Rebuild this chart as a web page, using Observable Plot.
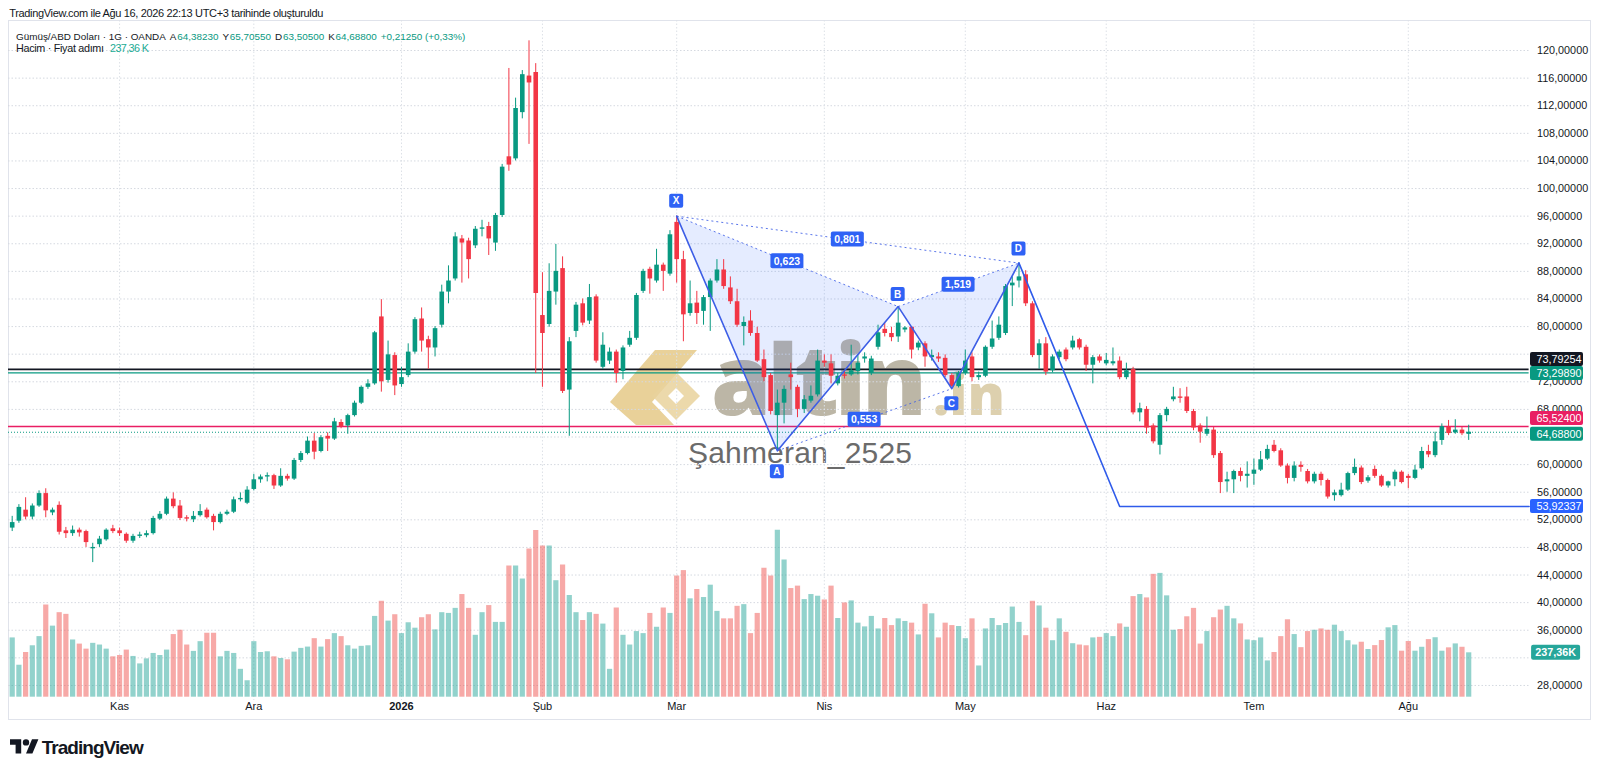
<!DOCTYPE html>
<html><head><meta charset="utf-8">
<script src="https://cdn.jsdelivr.net/npm/d3@7"></script>
<script src="https://cdn.jsdelivr.net/npm/@observablehq/plot@0.6"></script>
<style>
body{margin:0;background:#fff;width:1600px;height:772px;overflow:hidden;position:relative;font-family:"Liberation Sans",Arial,sans-serif;color:#131722;}
#frame{position:absolute;left:8px;top:20px;width:1583px;height:700px;border:1px solid #e0e3eb;box-sizing:border-box;}
.layer{position:absolute;left:0;top:0;}
#chart{position:absolute;left:0;top:20px;width:1600px;height:700px;}
#chart svg{position:absolute;left:0;top:0;}
</style></head>
<body>
<div id="frame"></div>
<svg id="back" class="layer" width="1600" height="772"></svg>
<div id="chart"></div>
<svg id="front" class="layer" width="1600" height="772"></svg>
<script>
// ---------------- DATA ----------------
const monthIdx = [16, 36, 58, 79, 99, 121, 142, 163, 185, 208];
const monthLabels = ["Kas","Ara","2026","Şub","Mar","Nis","May","Haz","Tem","Ağu"];
const priceTicks = [28,32,36,40,44,48,52,56,60,64,68,72,76,80,84,88,92,96,100,104,108,112,116,120];
const hiddenTickLabels = [76, 64, 32]; // covered by the price / volume label boxes

const open = [50.8,51.8,53.4,52.4,54.0,55.8,53.0,54.1,50.4,50.0,50.5,50.3,47.8,48.4,49.1,50.7,50.4,49.9,48.9,49.6,49.7,50.0,52.1,52.8,55.0,54.0,52.3,52.0,52.6,53.4,52.5,51.6,52.8,53.1,54.9,54.4,
56.4,57.8,58.2,58.4,56.9,58.3,57.9,60.6,61.6,63.4,61.9,64.1,63.7,66.1,65.6,67.1,68.9,71.2,71.7,81.4,72.2,75.8,71.6,72.9,76.3,81.1,78.1,76.9,80.2,85.0,86.9,92.7,92.4,91.7,94.1,94.5,
92.1,96.1,104.6,104.3,111.0,116.3,116.8,81.6,80.3,85.0,88.4,70.8,79.3,83.3,80.8,84.3,74.1,75.0,76.3,73.5,77.3,78.3,85.1,88.3,86.6,88.9,87.6,95.1,89.7,81.9,83.4,82.2,84.2,86.6,88.2,85.6,
83.6,80.0,80.8,79.0,75.2,72.9,67.1,68.9,73.0,71.2,68.0,69.2,70.1,75.0,74.6,71.7,73.0,73.0,73.5,75.3,73.2,77.0,79.6,79.0,78.5,79.5,79.9,76.9,77.5,75.5,75.6,75.4,72.9,71.3,73.2,
75.6,72.6,72.8,77.0,78.3,79.0,85.9,86.6,87.5,83.3,75.8,77.5,73.6,75.5,76.6,76.9,78.1,77.0,74.4,75.6,74.6,74.6,75.0,72.6,73.8,67.5,68.0,65.6,62.8,67.1,69.4,69.8,69.8,67.7,65.6,64.4,
65.0,61.6,57.5,57.8,59.0,58.3,58.6,59.2,60.8,62.8,62.0,59.8,58.0,59.9,59.0,57.5,58.6,57.7,55.5,55.5,56.3,58.7,
59.5,57.6,59.3,58.3,56.9,57.8,58.9,58.3,58.0,59.4,61.9,61.3,63.5,65.4,64.6,65.0,64.3823];
const high = [52.5,54.2,55.2,54.3,56.2,56.5,53.7,54.6,50.9,51.1,50.8,50.5,48.6,49.6,50.7,51.2,50.8,50.1,49.9,50.2,50.4,52.5,53.2,55.3,55.9,54.8,52.6,53.2,54.2,53.7,52.8,53.1,53.4,55.3,55.9,56.8,
58.6,58.5,58.8,58.6,59.4,58.6,60.9,61.9,64.0,64.5,64.2,64.6,66.7,66.5,67.3,69.2,71.4,72.3,79.3,83.9,77.9,76.2,74.1,77.5,81.3,82.7,78.6,80.0,86.0,88.8,93.6,93.2,92.8,94.5,95.4,95.1,
96.4,103.5,117.4,113.1,117.1,121.4,118.1,87.8,89.1,91.9,90.1,78.4,83.5,84.0,86.1,84.6,79.1,76.9,76.6,77.2,79.3,84.8,88.3,88.6,91.2,89.2,93.9,96.0,90.9,86.6,85.1,84.5,86.9,89.7,89.7,87.2,
85.4,81.4,82.3,79.9,76.6,73.2,70.8,71.4,74.7,71.5,70.0,71.4,76.6,75.9,75.9,73.2,73.5,77.3,75.9,76.2,75.7,80.2,80.5,79.9,82.9,80.0,80.0,77.9,77.8,76.6,76.2,75.9,73.2,73.5,76.6,
76.2,73.4,77.2,80.8,81.4,86.1,87.2,89.2,88.1,83.6,78.1,78.4,75.9,76.6,76.9,78.6,78.3,77.3,75.8,75.9,76.1,76.9,75.6,74.7,74.1,68.9,68.4,65.9,67.4,68.3,71.2,71.0,71.2,68.0,65.9,66.9,
65.4,61.9,58.9,59.2,59.5,60.4,60.8,61.9,62.8,63.5,62.3,60.1,60.4,60.4,59.3,58.9,58.9,57.9,56.3,57.3,58.9,60.8,
59.8,58.4,59.8,58.5,57.6,59.2,59.1,58.6,59.9,62.5,62.8,64.7,65.9,66.4,66.5,65.4,65.7055];
const low = [50.3,51.5,52.0,52.0,53.8,52.3,52.6,49.8,49.3,49.6,49.5,48.0,45.8,48.0,48.9,50.0,49.6,48.6,48.6,49.3,49.4,49.8,51.9,52.6,53.6,51.9,51.7,51.6,52.4,52.1,50.4,51.4,52.6,52.9,54.6,54.2,
56.2,57.3,57.5,56.4,56.7,57.6,57.7,60.3,61.4,60.7,61.7,61.9,63.5,65.2,64.4,66.9,68.7,70.9,71.5,70.5,71.8,70.0,71.2,72.6,76.0,76.3,73.8,75.6,79.8,83.3,86.6,86.3,86.9,91.3,93.0,90.3,
90.9,95.8,102.5,104.0,110.1,106.4,73.2,71.2,79.9,83.1,70.3,64.1,78.4,80.1,80.3,74.7,73.8,74.5,71.8,72.3,77.0,78.0,84.8,84.7,86.3,85.1,87.3,86.3,77.8,81.5,80.3,80.2,79.3,86.3,85.4,83.2,
79.9,77.2,78.6,74.8,72.0,67.2,62.0,65.9,70.8,66.8,67.4,68.9,69.8,74.1,71.7,71.4,72.4,72.8,73.0,74.7,72.9,76.6,78.5,77.8,77.7,79.1,75.3,76.5,74.1,75.0,74.8,72.6,71.0,71.1,72.9,
72.0,72.2,72.6,76.7,78.0,78.7,82.9,85.6,82.9,75.5,73.8,72.9,73.3,75.2,74.9,76.6,76.6,73.5,71.7,74.7,74.3,74.3,72.3,72.3,67.2,66.2,64.4,63.0,61.4,66.2,69.1,68.9,67.4,64.9,63.1,64.1,
60.9,55.8,56.0,55.8,57.5,56.6,57.0,59.0,60.6,61.7,59.6,57.2,57.5,58.9,57.2,57.2,56.9,55.0,54.7,55.3,56.1,58.4,
57.1,57.3,58.0,56.7,56.6,56.8,57.2,56.5,57.8,59.2,61.0,61.0,62.8,64.2,64.4,64.2,63.505];
const close = [51.6,53.8,52.4,54.0,55.8,53.3,53.4,50.2,50.0,50.5,50.1,48.7,48.0,49.2,50.5,50.3,50.0,48.9,49.6,49.8,50.0,52.2,52.8,55.0,53.9,52.2,52.1,52.5,53.2,52.3,51.6,52.8,53.1,54.9,55.1,56.3,
57.8,58.2,58.4,56.9,58.3,57.9,60.6,61.6,63.4,61.8,63.9,63.7,66.2,65.5,67.1,68.9,71.2,71.7,79.1,72.0,75.9,71.4,72.6,76.3,81.0,77.9,76.9,79.7,85.0,86.6,93.0,92.1,89.7,94.1,94.3,92.7,
96.1,103.1,103.4,111.6,116.5,115.3,84.8,79.0,85.1,88.0,70.6,77.8,83.1,80.5,84.2,75.0,77.3,76.3,73.2,76.9,78.3,84.5,88.0,86.9,88.9,88.0,93.3,89.7,81.7,83.3,81.9,84.2,86.6,88.2,85.8,83.6,
80.2,80.6,79.0,75.0,72.6,67.7,68.9,70.9,72.6,68.0,69.4,69.9,75.0,74.7,72.8,72.8,72.8,73.6,74.7,75.6,75.3,79.1,79.0,78.4,80.5,79.8,76.6,77.6,75.6,75.8,75.3,72.9,71.3,73.2,75.0,
72.6,72.9,77.0,78.2,80.2,85.8,86.3,87.2,83.3,75.8,77.5,73.4,75.6,76.3,75.2,77.9,76.9,74.4,75.5,75.0,75.1,74.9,72.6,73.6,67.5,68.1,65.3,63.3,67.1,68.0,69.8,69.6,67.7,65.3,64.7,65.1,
61.3,57.4,57.8,59.0,58.3,58.6,59.2,60.7,62.2,61.9,59.8,58.0,59.8,59.6,57.5,58.6,57.7,55.3,55.9,56.3,58.7,59.6,
57.4,58.1,58.3,56.9,57.5,58.9,57.4,58.0,59.2,61.9,61.4,63.3,65.5,64.5,65.0,64.4755,64.688];
// volume in thousands
const volume = [317,171,239,275,324,493,380,452,443,306,284,257,288,279,257,216,223,252,218,178,205,234,223,252,335,358,279,245,297,342,342,216,245,234,149,88,
297,239,243,216,207,200,241,261,268,313,268,308,340,324,275,257,272,275,432,513,407,441,340,398,369,425,441,360,452,448,475,549,475,331,452,490,
400,400,702,702,632,792,891,808,808,623,707,544,452,410,452,443,391,149,477,331,279,351,340,448,374,477,448,648,677,526,576,533,599,459,419,419,
486,495,340,448,689,648,893,734,581,594,522,549,540,520,594,421,504,515,396,376,432,365,421,383,419,405,396,333,497,446,317,396,383,378,313,
419,167,365,421,383,394,482,400,329,513,488,369,302,419,347,286,279,275,317,320,340,324,392,374,538,549,531,657,662,542,358,362,430,475,284,351,
425,466,486,419,392,306,302,317,194,239,324,414,335,265,351,358,365,358,385,351,302,279,
294,255,276,303,371,383,246,298,246,267,308,318,246,264,285,267,237.36];

// horizontal levels drawn on the chart
const levelBlack = 73.79254;
const levelTeal = 73.29890;
const levelPink = 65.52400;
const targetLevel = 53.92337;

// XABCD harmonic pattern
const patternNames = ["X","A","B","C","D"];
const patternIdx = [99, 114, 132, 140, 150];
const patternPrice = [96.0, 62.0, 82.9, 71.0, 89.2];
const ratioPairs = [[0,2],[0,4],[2,4],[1,3]];
const ratioLabels = ["0,623","0,801","1,519","0,553"];
const projIdx = [150, 165];       // D -> target corner
const xStart = -0.55, xEnd = 226; // visible bar range incl. right offset

// ---------------- STYLE ----------------
const FONT = "Liberation Sans, Arial, sans-serif";
const UP = "#089981", DOWN = "#f23645";
const VUP = "rgba(38,166,154,0.5)", VDOWN = "rgba(239,83,80,0.5)";
const PAT = "#3d5ee6", BOXBLUE = "#2f62f5";
const W = 1600, H = 700;
const priceMin = 25.82, priceMax = 124.35;

const fmt5 = d => d.toFixed(5).replace(".", ",");
const bars = open.map((o, i) => ({i, o, h: high[i], l: low[i], c: close[i], v: volume[i], up: close[i] >= o}));
const last = bars[bars.length - 1];
const months = monthIdx.map((k, j) => ({k, label: monthLabels[j]}));
const P = patternIdx.map((k, j) => ({k, p: patternPrice[j], name: patternNames[j]}));
const tris = [[0,1,2],[2,3,4]].flatMap((t, ti) => t.map(j => ({...P[j], t: ti})));
const links = ratioPairs.map(([a, b], j) => ({x1: P[a].k, y1: P[a].p, x2: P[b].k, y2: P[b].p, label: ratioLabels[j]}));
const proj = [{k: projIdx[0], p: patternPrice[4]}, {k: projIdx[1], p: targetLevel}, {k: xEnd, p: targetLevel}];

const common = {width: W, height: H, marginLeft: 8, marginRight: 71.4,
  x: {domain: [xStart, xEnd], axis: null}, color: {type: "identity"},
  style: {background: "transparent", fontFamily: FONT, color: "#131722", overflow: "visible"}};

const priceSvg = Plot.plot({
  ...common, marginTop: 0, marginBottom: 20,
  y: {domain: [priceMin, priceMax], axis: null},
  marks: [
    Plot.gridY(priceTicks, {stroke: "#d5d9e0", strokeOpacity: 1, strokeDasharray: "1.5,2"}),
    Plot.gridX(monthIdx, {stroke: "#dde1e7", strokeOpacity: 1, strokeDasharray: "1.5,2"}),
    Plot.axisY(priceTicks.filter(t => !hiddenTickLabels.includes(t)), {anchor: "right", tickSize: 0, tickPadding: 8, tickFormat: fmt5, fontSize: 10.8, fill: "#131722"}),
    Plot.text(months.filter(d => d.label !== "2026"), {x: "k", text: "label", frameAnchor: "bottom", dy: 9, fontSize: 11, fill: "#131722"}),
    Plot.text(months.filter(d => d.label === "2026"), {x: "k", text: "label", frameAnchor: "bottom", dy: 9, fontSize: 11, fontWeight: "bold", fill: "#131722"}),
    Plot.ruleY([levelTeal], {stroke: "#089981", strokeWidth: 1.4}),
    Plot.ruleY([levelBlack], {stroke: "#131722", strokeWidth: 1.6}),
    Plot.ruleY([levelPink], {stroke: "#e91e63", strokeWidth: 1.4}),
    Plot.ruleY([last.c], {stroke: "#089981", strokeWidth: 1, strokeDasharray: "1,2"}),
    Plot.line(tris, {x: "k", y: "p", z: "t", curve: "linear-closed", fill: "#2962ff", fillOpacity: 0.12, stroke: "none"}),
    Plot.link(links, {x1: "x1", y1: "y1", x2: "x2", y2: "y2", stroke: PAT, strokeWidth: 1, strokeDasharray: "2,3", strokeOpacity: 0.85}),
    Plot.ruleX(bars, {x: "i", y1: "l", y2: "h", stroke: d => d.up ? UP : DOWN, strokeWidth: 1}),
    Plot.ruleX(bars, {x: "i", y1: "o", y2: "c", stroke: d => d.up ? UP : DOWN, strokeWidth: 4.6}),
    Plot.line(P, {x: "k", y: "p", stroke: PAT, strokeWidth: 1.6}),
    Plot.line(proj, {x: "k", y: "p", stroke: "#2f5bea", strokeWidth: 1.6})
  ]
});

const volSvg = Plot.plot({
  ...common, marginTop: 489.7, marginBottom: 23.3,
  y: {domain: [0, 1000], axis: null},
  marks: [
    Plot.ruleX(bars, {x: "i", y1: 0, y2: "v", stroke: d => d.up ? VUP : VDOWN, strokeWidth: 5.2})
  ]
});

document.getElementById("chart").append(priceSvg, volSvg);

// ---------- label boxes positioned through the plots' scales ----------
function addBox(g, cx, cy, w, h, fill, txt, o = {}) {
  g.append("rect").attr("x", cx - w / 2).attr("y", cy - h / 2).attr("width", w).attr("height", h)
    .attr("rx", o.rx ?? 2).attr("fill", fill);
  g.append("text").attr("x", o.tx ?? cx).attr("y", cy).attr("dy", "0.36em")
    .attr("text-anchor", o.anchor ?? "middle").attr("fill", "#fff")
    .attr("font-size", o.fs ?? 10.5).attr("font-weight", o.fw ?? "normal").attr("font-family", FONT).text(txt);
}
const sx = priceSvg.scale("x"), sy = priceSvg.scale("y");
const gp = d3.select(priceSvg).append("g");
links.forEach(l => {
  const cx = (sx.apply(l.x1) + sx.apply(l.x2)) / 2, cy = (sy.apply(l.y1) + sy.apply(l.y2)) / 2;
  addBox(gp, cx, cy, 33, 15, BOXBLUE, l.label, {fs: 10.5, fw: "bold"});
});
const letterDy = [-15, 21, -12, 15, -14];
P.forEach((d, j) => addBox(gp, sx.apply(d.k), sy.apply(d.p) + letterDy[j], 14, 14, BOXBLUE, d.name, {fs: 10, fw: "bold"}));
const scaleX0 = W - 71.4;
[{v: levelBlack, dy: -10, fill: "#131722"}, {v: levelTeal, dy: 0.6, fill: "#089981"},
 {v: levelPink, dy: -8, fill: "#e91e63"}, {v: last.c, dy: 2, fill: "#089981"},
 {v: targetLevel, dy: 0, fill: "#2962ff"}].forEach(b => {
  addBox(gp, scaleX0 + 1.4 + 26.5, sy.apply(b.v) + b.dy, 53, 14, b.fill, fmt5(b.v), {tx: scaleX0 + 8, anchor: "start", fs: 10.8});
});
const vy = volSvg.scale("y");
addBox(d3.select(volSvg).append("g"), scaleX0 + 27, vy.apply(last.v), 49, 15, "#26a69a",
  last.v.toFixed(2).replace(".", ",") + "K", {fs: 10.8, fw: "bold"});

// ---------- watermark (behind) ----------
const back = d3.select("#back");
back.append("polygon").attr("points", "610,402 655,350 697,350 652,402 674,425 636,425")
  .attr("fill", "#e3c57f").attr("opacity", 0.8);
back.append("polygon").attr("points", "676,372 700,396 676,420 652,396").attr("fill", "#e9d29c").attr("opacity", 0.85);
back.append("polygon").attr("points", "676,388 684,396 676,404 668,396").attr("fill", "#fff");
back.append("text").attr("x", 711).attr("y", 415).attr("font-family", "Open Sans, sans-serif")
  .attr("font-weight", 800).attr("font-size", 97).attr("fill", "#bcb6a6").attr("textLength", 216).text("altin");
back.append("text").attr("x", 933).attr("y", 415).attr("font-family", "Open Sans, sans-serif")
  .attr("font-weight", 800).attr("font-size", 56).attr("fill", "#ddd0ae").text(".in");
back.append("text").attr("x", 688).attr("y", 462.7).attr("font-family", FONT)
  .attr("font-size", 30).attr("fill", "#6b6b6b").attr("textLength", 224).text("Şahmeran_2525");

// ---------- header, legend, footer ----------
const front = d3.select("#front");
front.append("text").attr("x", 9.3).attr("y", 17.2).attr("font-family", FONT).attr("font-size", 11)
  .attr("fill", "#131722").attr("textLength", 314).text("TradingView.com ile Ağu 16, 2026 22:13 UTC+3 tarihinde oluşturuldu");
const prevC = bars[bars.length - 2].c;
const chg = last.c - prevC, pct = chg / prevC * 100;
const sign = s => (s.startsWith("-") ? "" : "+") + s;
const legendParts = [
  {t: "Gümüş/ABD Doları · 1G · OANDA", f: "#131722"},
  {t: "A", f: "#131722", gap: 4}, {t: fmt5(last.o), f: UP, gap: 0.8},
  {t: "Y", f: "#131722", gap: 4}, {t: fmt5(last.h), f: UP, gap: 0.8},
  {t: "D", f: "#131722", gap: 4}, {t: fmt5(last.l), f: UP, gap: 0.8},
  {t: "K", f: "#131722", gap: 4}, {t: fmt5(last.c), f: UP, gap: 0.8},
  {t: sign(fmt5(chg)) + " (" + sign(pct.toFixed(2).replace(".", ",")) + "%)", f: UP, gap: 4}
];
// lay the legend parts side by side as separate texts; font size chosen so the line spans the reference width
const legendWidth = 450, baseFs = 10.8;
const nodes = legendParts.map(d => front.append("text").attr("y", 40.3).attr("font-family", FONT)
  .attr("font-size", baseFs).attr("fill", d.f).text(d.t));
const gaps = d3.sum(legendParts, d => d.gap || 0);
const natural0 = d3.sum(nodes, n => n.node().getComputedTextLength());
const fs = baseFs * (legendWidth - gaps) / natural0;
nodes.forEach(n => n.attr("font-size", fs));
let cx = 16;
nodes.forEach((n, j) => {
  cx += legendParts[j].gap || 0;
  n.attr("x", cx);
  cx += n.node().getComputedTextLength();
});
front.append("text").attr("x", 16).attr("y", 51.6).attr("font-family", FONT).attr("font-size", 10.8)
  .attr("fill", "#131722").attr("textLength", 88).text("Hacim · Fiyat adımı");
front.append("text").attr("x", 110).attr("y", 51.6).attr("font-family", FONT).attr("font-size", 10.8)
  .attr("fill", "#22ab94").attr("textLength", 39).text(last.v.toFixed(2).replace(".", ",") + " K");
front.append("path").attr("transform", "translate(10,736) scale(0.8)")
  .attr("d", "M14 22H7V11H0V4h14v18zM28 22h-8l7.5-18h8L28 22zM20 4a4 4 0 1 0 0 8 4 4 0 0 0 0-8z").attr("fill", "#131722");
front.append("text").attr("x", 41.7).attr("y", 754).attr("font-family", FONT).attr("font-weight", "bold")
  .attr("font-size", 19).attr("fill", "#131722").attr("textLength", 102).text("TradingView");
</script>
</body></html>
